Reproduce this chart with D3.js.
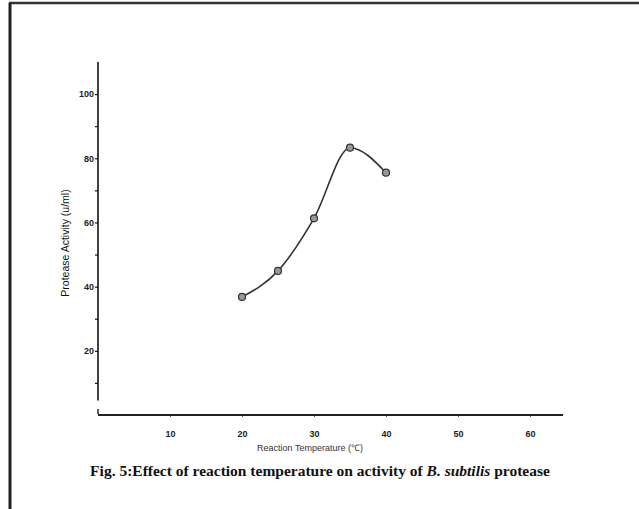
<!DOCTYPE html>
<html>
<head>
<meta charset="utf-8">
<script src="https://cdn.jsdelivr.net/npm/d3@7"></script>
<style>
  body { margin: 0; background: #fff; }
  svg { display: block; }
  .tick text { font-family: Arial, 'Liberation Sans', sans-serif; font-size: 9px; font-weight: bold; fill: #222; }
</style>
</head>
<body>
<div id="chart"></div>
<script>
// values
const temperature = [20, 25, 30, 35, 40]
const activity = [36.8, 44.9, 61.3, 83.3, 75.5]
const xTicks = [10, 20, 30, 40, 50, 60]
const yTicks = [10, 20, 30, 40, 50, 60, 70, 80, 90, 100]
const yLabelled = [20, 40, 60, 80, 100]

const width = 639
const height = 509

const svg = d3
  .select('#chart')
  .append('svg')
  .attr('width', width)
  .attr('height', height)

// scan frame (top and left edge of the page)
svg.append('line')
  .attr('x1', 9).attr('x2', width).attr('y1', 3).attr('y2', 3)
  .attr('stroke', '#333').attr('stroke-width', 2.5)
svg.append('line')
  .attr('x1', 10).attr('x2', 10).attr('y1', 3).attr('y2', height)
  .attr('stroke', '#222').attr('stroke-width', 3)

const x = d3.scaleLinear().domain([0, 65]).range([98, 566])
const y = d3.scaleLinear().domain([0, 110]).range([415, 62])

// y axis
const yAxis = d3
  .axisLeft(y)
  .tickValues(yTicks)
  .tickSize(3)
  .tickFormat(d => (yLabelled.includes(d) ? d : ''))

const gy = svg.append('g')
  .attr('transform', 'translate(' + x(0) + ',0)')
  .call(yAxis)
gy.select('.domain').remove()
gy.append('line')
  .attr('y1', y(110)).attr('y2', y(4.5))
  .attr('stroke', '#111').attr('stroke-width', 1.6)
gy.selectAll('.tick line').attr('stroke', '#111').attr('stroke-width', 1.2)
gy.selectAll('.tick text').attr('x', -4)

// x axis
const xAxis = d3
  .axisBottom(x)
  .tickValues(xTicks)
  .tickSize(2)
  .tickPadding(14)

const gx = svg.append('g')
  .attr('transform', 'translate(0,' + y(0) + ')')
  .call(xAxis)
gx.select('.domain').remove()
gx.append('line')
  .attr('x1', x(0)).attr('x2', x(64.6))
  .attr('stroke', '#222').attr('stroke-width', 2.2)
gx.selectAll('.tick line').attr('stroke', '#555')
svg.append('line')
  .attr('x1', x(0)).attr('x2', x(0))
  .attr('y1', y(0) - 6).attr('y2', y(0) - 1)
  .attr('stroke', '#111').attr('stroke-width', 1.4)

// axis titles
svg.append('text')
  .attr('transform', 'translate(69,243) rotate(-90)')
  .attr('text-anchor', 'middle')
  .style('font-family', 'Arial, sans-serif')
  .style('font-size', '10.5px')
  .attr('fill', '#111')
  .text('Protease Activity (u/ml)')

svg.append('text')
  .attr('x', 310)
  .attr('y', 451)
  .attr('text-anchor', 'middle')
  .style('font-family', 'Arial, sans-serif')
  .style('font-size', '9px')
  .attr('fill', '#333')
  .text('Reaction Temperature  (\u2103)')

// caption
const cap = svg.append('text')
  .attr('x', 320)
  .attr('y', 476)
  .attr('text-anchor', 'middle')
  .style('font-family', "'Liberation Serif', 'Times New Roman', serif")
  .style('font-size', '15.5px')
  .style('font-weight', 'bold')
  .attr('fill', '#111')
cap.append('tspan').text('Fig. 5:Effect of reaction temperature on activity of ')
cap.append('tspan').style('font-style', 'italic').text('B. subtilis')
cap.append('tspan').text(' protease')

// data
const data = temperature.map((t, i) => ({ t: t, v: activity[i] }))

const line = d3
  .line()
  .x(d => x(d.t))
  .y(d => y(d.v))
  .curve(d3.curveMonotoneX)

svg.append('path')
  .datum(data)
  .attr('d', line)
  .attr('fill', 'none')
  .attr('stroke', '#333')
  .attr('stroke-width', 1.6)

svg.selectAll('circle.pt')
  .data(data)
  .enter()
  .append('circle')
  .attr('class', 'pt')
  .attr('cx', d => x(d.t))
  .attr('cy', d => y(d.v))
  .attr('r', 3.5)
  .attr('fill', '#999')
  .attr('stroke', '#333')
  .attr('stroke-width', 1.2)
</script>
</body>
</html>
